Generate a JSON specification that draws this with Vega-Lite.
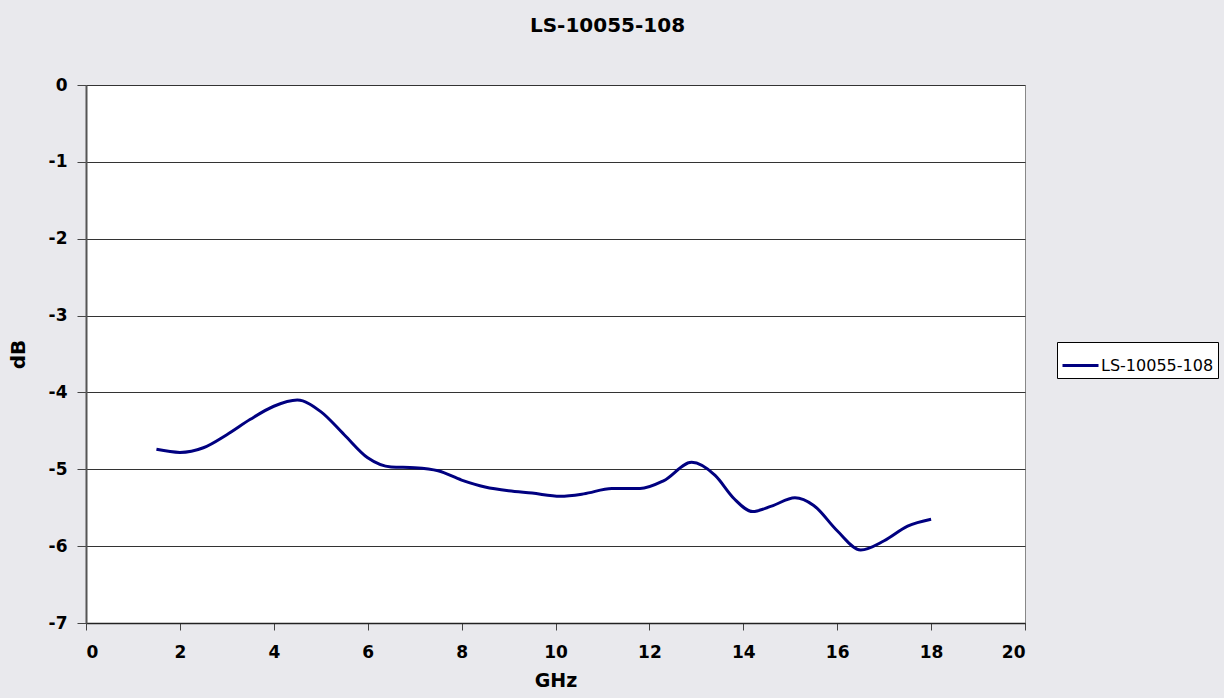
{
  "$schema": "https://vega.github.io/schema/vega-lite/v6.json",
  "autosize": "none",
  "width": 939,
  "height": 538,
  "padding": {"left": 86, "top": 85, "right": 199, "bottom": 75},
  "background": "#e9e9ed",
  "view": {"fill": "white", "stroke": "#888888", "strokeWidth": 1},
  "title": {
    "text": "LS-10055-108",
    "font": "DejaVu Sans",
    "fontSize": 20,
    "fontWeight": "bold",
    "color": "black",
    "dx": 52,
    "offset": 40
  },
  "data": {
    "values": [
      {"GHz": 1.5, "dB": -4.74, "series": "LS-10055-108"},
      {"GHz": 2.0, "dB": -4.78, "series": "LS-10055-108"},
      {"GHz": 2.5, "dB": -4.72, "series": "LS-10055-108"},
      {"GHz": 3.0, "dB": -4.55, "series": "LS-10055-108"},
      {"GHz": 3.5, "dB": -4.35, "series": "LS-10055-108"},
      {"GHz": 4.0, "dB": -4.18, "series": "LS-10055-108"},
      {"GHz": 4.5, "dB": -4.10, "series": "LS-10055-108"},
      {"GHz": 5.0, "dB": -4.25, "series": "LS-10055-108"},
      {"GHz": 5.5, "dB": -4.55, "series": "LS-10055-108"},
      {"GHz": 6.0, "dB": -4.85, "series": "LS-10055-108"},
      {"GHz": 6.5, "dB": -4.97, "series": "LS-10055-108"},
      {"GHz": 7.0, "dB": -4.98, "series": "LS-10055-108"},
      {"GHz": 7.5, "dB": -5.02, "series": "LS-10055-108"},
      {"GHz": 8.0, "dB": -5.14, "series": "LS-10055-108"},
      {"GHz": 8.5, "dB": -5.23, "series": "LS-10055-108"},
      {"GHz": 9.0, "dB": -5.28, "series": "LS-10055-108"},
      {"GHz": 9.5, "dB": -5.31, "series": "LS-10055-108"},
      {"GHz": 10.1, "dB": -5.35, "series": "LS-10055-108"},
      {"GHz": 10.6, "dB": -5.32, "series": "LS-10055-108"},
      {"GHz": 11.2, "dB": -5.25, "series": "LS-10055-108"},
      {"GHz": 11.8, "dB": -5.25, "series": "LS-10055-108"},
      {"GHz": 12.3, "dB": -5.15, "series": "LS-10055-108"},
      {"GHz": 12.9, "dB": -4.91, "series": "LS-10055-108"},
      {"GHz": 13.4, "dB": -5.08, "series": "LS-10055-108"},
      {"GHz": 13.8, "dB": -5.38, "series": "LS-10055-108"},
      {"GHz": 14.2, "dB": -5.55, "series": "LS-10055-108"},
      {"GHz": 14.6, "dB": -5.48, "series": "LS-10055-108"},
      {"GHz": 15.1, "dB": -5.37, "series": "LS-10055-108"},
      {"GHz": 15.5, "dB": -5.47, "series": "LS-10055-108"},
      {"GHz": 16.0, "dB": -5.80, "series": "LS-10055-108"},
      {"GHz": 16.5, "dB": -6.05, "series": "LS-10055-108"},
      {"GHz": 17.0, "dB": -5.93, "series": "LS-10055-108"},
      {"GHz": 17.5, "dB": -5.74, "series": "LS-10055-108"},
      {"GHz": 18.0, "dB": -5.65, "series": "LS-10055-108"}
    ]
  },
  "mark": {"type": "line", "interpolate": "monotone", "strokeWidth": 3},
  "encoding": {
    "x": {
      "field": "GHz",
      "type": "quantitative",
      "scale": {"domain": [0, 20], "nice": false},
      "axis": {
        "values": [0, 2, 4, 6, 8, 10, 12, 14, 16, 18, 20],
        "title": "GHz",
        "grid": false,
        "domain": true,
        "domainColor": "#222222",
        "domainWidth": 1.5,
        "tickColor": "#444444",
        "tickSize": 7,
        "labelFont": "DejaVu Sans",
        "labelFontSize": 17,
        "labelFontWeight": "bold",
        "labelColor": "black",
        "labelPadding": 14,
        "titleFont": "DejaVu Sans",
        "titleFontSize": 19,
        "titleFontWeight": "bold",
        "titleColor": "black",
        "titlePadding": 11
      }
    },
    "y": {
      "field": "dB",
      "type": "quantitative",
      "scale": {"domain": [-7, 0], "nice": false},
      "axis": {
        "values": [0, -1, -2, -3, -4, -5, -6, -7],
        "labelExpr": "'' + datum.value",
        "title": "dB",
        "grid": true,
        "gridColor": "#333333",
        "gridWidth": 1,
        "domainColor": "#555555",
        "domainWidth": 2,
        "tickColor": "#444444",
        "tickSize": 9,
        "labelFont": "DejaVu Sans",
        "labelFontSize": 17,
        "labelFontWeight": "bold",
        "labelColor": "black",
        "labelPadding": 10,
        "titleFont": "DejaVu Sans",
        "titleFontSize": 20,
        "titleFontWeight": "bold",
        "titleColor": "black",
        "titlePadding": 20
      }
    },
    "color": {
      "field": "series",
      "type": "nominal",
      "scale": {"range": ["#000080"]},
      "legend": {
        "title": null,
        "orient": "none",
        "legendX": 971,
        "legendY": 257,
        "symbolType": "stroke",
        "symbolSize": 1296,
        "symbolStrokeWidth": 3,
        "labelFont": "DejaVu Sans",
        "labelFontSize": 16,
        "labelColor": "black",
        "labelOffset": 1,
        "fillColor": "white",
        "strokeColor": "black",
        "padding": 4
      }
    }
  }
}
